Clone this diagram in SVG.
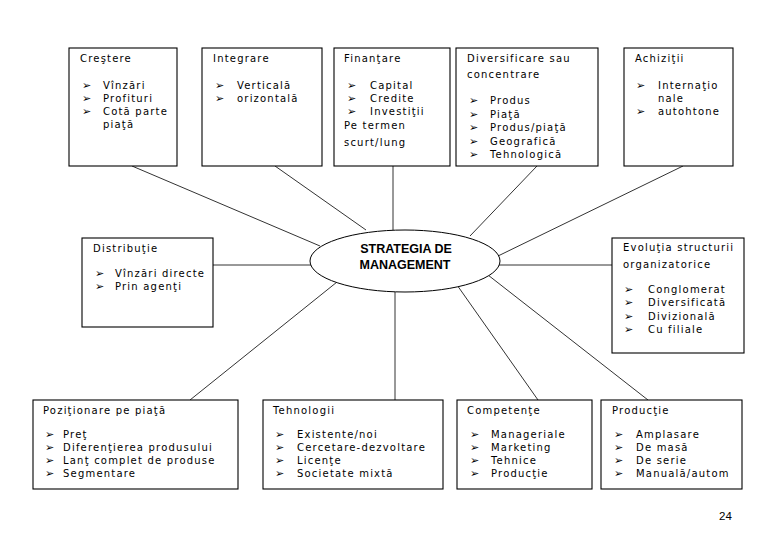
<svg xmlns="http://www.w3.org/2000/svg" width="780" height="540" viewBox="0 0 780 540">
<style>
.box{fill:#fff;stroke:#000;stroke-width:1.1}
.t{font-family:"DejaVu Sans",Verdana,sans-serif;font-size:10px;letter-spacing:1.2px;fill:#000}
.b{font-family:"DejaVu Sans",sans-serif;font-size:11px;fill:#000}
.c line{stroke:#333;stroke-width:1}
.center{font-family:"Liberation Sans",Arial,sans-serif;font-weight:bold;font-size:12.5px;fill:#000}
</style>
<rect width="780" height="540" fill="#fff"/>
<g class="c" id="connectors">
<line x1="132" y1="166" x2="320" y2="246"/>
<line x1="275" y1="166" x2="366" y2="230"/>
<line x1="393" y1="166" x2="393" y2="230"/>
<line x1="537" y1="166" x2="470" y2="236"/>
<line x1="683" y1="166" x2="498" y2="256"/>
<line x1="213" y1="265" x2="311" y2="265"/>
<line x1="499" y1="265" x2="612" y2="265"/>
<line x1="190" y1="400" x2="337" y2="282"/>
<line x1="395" y1="292" x2="395" y2="400"/>
<line x1="538" y1="400" x2="457" y2="285"/>
<line x1="648" y1="400" x2="488" y2="275"/>
</g>
<g id="center">
<ellipse cx="405" cy="261" rx="95" ry="31" fill="#fff" stroke="#000" stroke-width="1"/>
<text class="center" x="406" y="253" text-anchor="middle">STRATEGIA DE</text>
<text class="center" x="405" y="269" text-anchor="middle">MANAGEMENT</text>
</g>
<g id="crestere">
<rect class="box" x="69" y="48" width="108" height="118"/>
<text class="t" x="80" y="62">Creştere</text>
<text class="b" x="82" y="89">➢</text><text class="t" x="103" y="89">Vînzări</text>
<text class="b" x="82" y="102">➢</text><text class="t" x="103" y="102">Profituri</text>
<text class="b" x="82" y="115">➢</text><text class="t" x="103" y="115">Cotă parte</text>
<text class="t" x="103" y="128">piaţă</text>
</g>
<g id="integrare">
<rect class="box" x="202" y="48" width="120" height="118"/>
<text class="t" x="213" y="62">Integrare</text>
<text class="b" x="215" y="89">➢</text><text class="t" x="237" y="89">Verticală</text>
<text class="b" x="215" y="102">➢</text><text class="t" x="237" y="102">orizontală</text>
</g>
<g id="finantare">
<rect class="box" x="334" y="48" width="116" height="118"/>
<text class="t" x="344" y="62">Finanţare</text>
<text class="b" x="347" y="89">➢</text><text class="t" x="370" y="89">Capital</text>
<text class="b" x="347" y="102">➢</text><text class="t" x="370" y="102">Credite</text>
<text class="b" x="347" y="115">➢</text><text class="t" x="370" y="115">Investiţii</text>
<text class="t" x="344" y="129">Pe termen</text>
<text class="t" x="344" y="146">scurt/lung</text>
</g>
<g id="diversificare">
<rect class="box" x="456" y="48" width="142" height="118"/>
<text class="t" x="467" y="62">Diversificare sau</text>
<text class="t" x="467" y="78">concentrare</text>
<text class="b" x="469" y="104">➢</text><text class="t" x="490" y="104">Produs</text>
<text class="b" x="469" y="117.5">➢</text><text class="t" x="490" y="117.5">Piaţă</text>
<text class="b" x="469" y="131">➢</text><text class="t" x="490" y="131">Produs/piaţă</text>
<text class="b" x="469" y="144.5">➢</text><text class="t" x="490" y="144.5">Geografică</text>
<text class="b" x="469" y="158">➢</text><text class="t" x="490" y="158">Tehnologică</text>
</g>
<g id="achizitii">
<rect class="box" x="624" y="48" width="109" height="118"/>
<text class="t" x="635" y="62">Achiziţii</text>
<text class="b" x="636" y="89">➢</text><text class="t" x="658" y="89">Internaţio</text>
<text class="t" x="658" y="102">nale</text>
<text class="b" x="636" y="115">➢</text><text class="t" x="658" y="115">autohtone</text>
</g>
<g id="distributie">
<rect class="box" x="82" y="238" width="131" height="89"/>
<text class="t" x="93" y="252">Distribuţie</text>
<text class="b" x="95" y="277">➢</text><text class="t" x="115" y="277">Vînzări directe</text>
<text class="b" x="95" y="290">➢</text><text class="t" x="115" y="290">Prin agenţi</text>
</g>
<g id="evolutia">
<rect class="box" x="612" y="238" width="132" height="115"/>
<text class="t" x="623" y="251">Evoluţia structurii</text>
<text class="t" x="623" y="268">organizatorice</text>
<text class="b" x="624" y="293">➢</text><text class="t" x="648" y="293">Conglomerat</text>
<text class="b" x="624" y="306">➢</text><text class="t" x="648" y="306">Diversificată</text>
<text class="b" x="624" y="320">➢</text><text class="t" x="648" y="320">Divizională</text>
<text class="b" x="624" y="333">➢</text><text class="t" x="648" y="333">Cu filiale</text>
</g>
<g id="pozitionare">
<rect class="box" x="33" y="400" width="205" height="89"/>
<text class="t" x="43" y="414">Poziţionare pe piaţă</text>
<text class="b" x="45" y="438">➢</text><text class="t" x="63" y="438">Preţ</text>
<text class="b" x="45" y="451">➢</text><text class="t" x="63" y="451">Diferenţierea produsului</text>
<text class="b" x="45" y="464">➢</text><text class="t" x="63" y="464">Lanţ complet de produse</text>
<text class="b" x="45" y="477">➢</text><text class="t" x="63" y="477">Segmentare</text>
</g>
<g id="tehnologii">
<rect class="box" x="263" y="400" width="180" height="89"/>
<text class="t" x="273" y="414">Tehnologii</text>
<text class="b" x="275" y="438">➢</text><text class="t" x="297" y="438">Existente/noi</text>
<text class="b" x="275" y="451">➢</text><text class="t" x="297" y="451">Cercetare-dezvoltare</text>
<text class="b" x="275" y="464">➢</text><text class="t" x="297" y="464">Licenţe</text>
<text class="b" x="275" y="477">➢</text><text class="t" x="297" y="477">Societate mixtă</text>
</g>
<g id="competente">
<rect class="box" x="457" y="400" width="135" height="89"/>
<text class="t" x="467" y="414">Competenţe</text>
<text class="b" x="470" y="438">➢</text><text class="t" x="491" y="438">Manageriale</text>
<text class="b" x="470" y="451">➢</text><text class="t" x="491" y="451">Marketing</text>
<text class="b" x="470" y="464">➢</text><text class="t" x="491" y="464">Tehnice</text>
<text class="b" x="470" y="477">➢</text><text class="t" x="491" y="477">Producţie</text>
</g>
<g id="productie">
<rect class="box" x="601" y="400" width="141" height="89"/>
<text class="t" x="612" y="414">Producţie</text>
<text class="b" x="614" y="438">➢</text><text class="t" x="636" y="438">Amplasare</text>
<text class="b" x="614" y="451">➢</text><text class="t" x="636" y="451">De masă</text>
<text class="b" x="614" y="464">➢</text><text class="t" x="636" y="464">De serie</text>
<text class="b" x="614" y="477">➢</text><text class="t" x="636" y="477">Manuală/autom</text>
</g>
<text x="719" y="520" font-family="Liberation Sans, Arial, sans-serif" font-size="11.5px" fill="#000">24</text>
</svg>
